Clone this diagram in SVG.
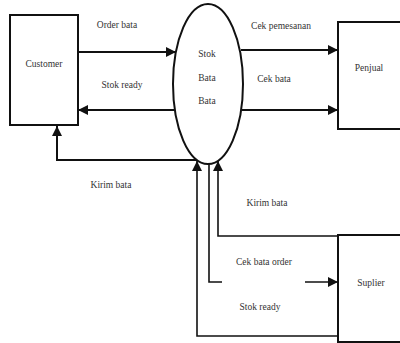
<svg xmlns="http://www.w3.org/2000/svg" width="400" height="343" viewBox="0 0 400 343">
<style>
.box{fill:#fff;stroke:#111;stroke-width:2}
.ln{fill:none;stroke:#111;stroke-width:2}
.thin{fill:none;stroke:#111;stroke-width:1.6}
.t{font-family:"Liberation Serif","Times New Roman","DejaVu Serif",serif;font-size:9.5px;fill:#333;text-anchor:middle}
</style>
<defs>
<marker id="ah" viewBox="0 0 10 10" refX="10" refY="5" markerWidth="11" markerHeight="10" markerUnits="userSpaceOnUse" orient="auto">
<path d="M0,0 L10,5 L0,10 Z" fill="#111"/>
</marker>
</defs>
<rect width="400" height="343" fill="#fff"/>
<g id="customer"><rect class="box" x="10" y="15" width="68" height="110"/><text class="t" x="44" y="67">Customer</text></g>
<g id="proses"><ellipse class="box" cx="208" cy="84" rx="35" ry="80" stroke-width="1.6"/><text class="t" x="207" y="57">Stok</text><text class="t" x="207" y="81">Bata</text><text class="t" x="207" y="104">Bata</text></g>
<g id="penjual"><rect class="box" x="338" y="22" width="66" height="107"/><text class="t" x="369" y="71">Penjual</text></g>
<g id="suplier"><rect class="box" x="338" y="235" width="66" height="107"/><text class="t" x="371" y="286">Suplier</text></g>
<g id="connectors">
<line class="ln" x1="78" y1="52" x2="176" y2="52" marker-end="url(#ah)"/>
<line class="ln" x1="175" y1="110" x2="78" y2="110" marker-end="url(#ah)"/>
<line class="ln" x1="241" y1="50" x2="338" y2="50" marker-end="url(#ah)"/>
<line class="ln" x1="242" y1="110" x2="338" y2="110" marker-end="url(#ah)"/>
<path class="ln" d="M197,160 H57 V126" marker-end="url(#ah)"/>
<path class="thin" d="M338,336 H197 V161" marker-end="url(#ah)"/>
<path class="thin" d="M209,163 V282 H222"/>
<line class="thin" x1="305" y1="282" x2="338" y2="282" marker-end="url(#ah)"/>
<path class="thin" d="M338,236 H218 V161" marker-end="url(#ah)"/>
</g>
<g id="labels">
<text class="t" x="117" y="28">Order bata</text>
<text class="t" x="122" y="88">Stok ready</text>
<text class="t" x="281" y="29">Cek pemesanan</text>
<text class="t" x="274" y="82">Cek bata</text>
<text class="t" x="111" y="188">Kirim bata</text>
<text class="t" x="267" y="206">Kirim bata</text>
<text class="t" x="264" y="265">Cek bata order</text>
<text class="t" x="260" y="310">Stok ready</text>
</g>
</svg>
